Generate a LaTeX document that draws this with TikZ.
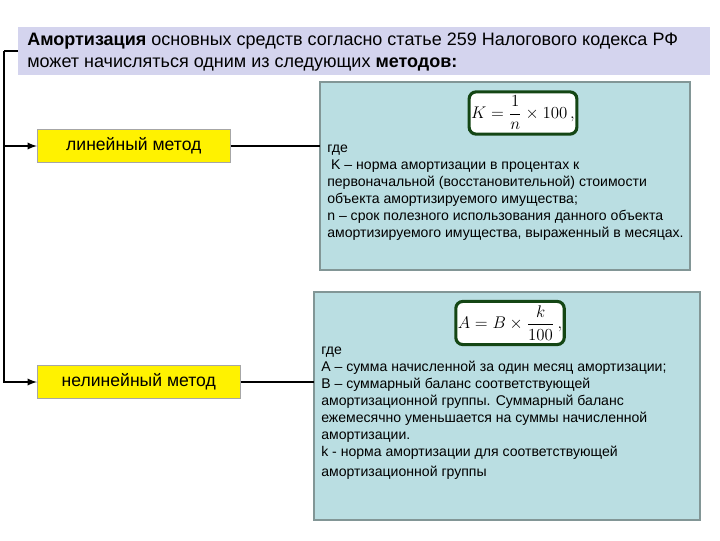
\documentclass[tikz,border=0pt]{standalone}
\usepackage{fontspec}
\setmainfont{Liberation Sans}
\usepackage{amsmath}
\usepackage{xcolor}
\usetikzlibrary{arrows, math}
\definecolor{hdrfill}{RGB}{212,212,238}
\definecolor{tealfill}{RGB}{186,222,226}
\definecolor{tealedge}{RGB}{130,150,150}
\definecolor{fedge}{RGB}{20,70,20}

\begin{document}
\begin{tikzpicture}[x=0.025cm, y=-0.025cm,
  methodbox/.style={draw=gray!70, fill=yellow, minimum height=33*0.025cm, anchor=west, font=\fontsize{12.5}{14}\selectfont},
  infobox/.style={draw=tealedge, line width=1.5, fill=tealfill},
  formbox/.style={draw=fedge, line width=2.2, fill=white, rounded corners=5, inner xsep=1.5pt, inner ysep=3pt},
  infotext/.style={anchor=north west, align=left, inner sep=0, font=\fontsize{10}{12.1}\selectfont}]
\tikzmath{
\lw=1.3;
}
\useasboundingbox (0,0) rectangle (720,540);
% header
\node[fill=hdrfill, minimum width=692*0.025cm, minimum height=48*0.025cm, anchor=north west] (hdr) at (18,27) {};
\node[anchor=north west, align=left, inner sep=0, font=\fontsize{12.8}{15.6}\selectfont] (hdrtxt) at (27,33)
  {\textbf{Амортизация} основных средств согласно статье 259 Налогового кодекса РФ\\
   может начисляться одним из следующих \textbf{методов:}};
% method boxes
\node[methodbox, minimum width=193*0.025cm] (lin) at (37,146) {линейный метод};
\node[methodbox, minimum width=203*0.025cm] (nonlin) at (37,382) {нелинейный метод};
% info boxes
\draw[infobox] (320,82) rectangle (690,270);
\coordinate (box1) at (320,146);
\draw[infobox] (314,292) rectangle (700,520);
\coordinate (box2) at (314,382);
\node[formbox] (f1) at (523,113) {\fontsize{11.5}{13}\selectfont$K=\dfrac{1}{n}\times100\,,$};
\node[formbox] (f2) at (510,323) {\fontsize{11.5}{13}\selectfont$A=B\times\dfrac{k}{100}\,,$};
\node[infotext] (t1) at (327,145) {где\\
 \ K – норма амортизации в процентах к\\
первоначальной (восстановительной) стоимости\\
объекта амортизируемого имущества;\\
n – срок полезного использования данного объекта\\
амортизируемого имущества, выраженный в месяцах.};
\node[infotext] (t2) at (321,347) {где\\
A – сумма начисленной за один месяц амортизации;\\
B – суммарный баланс соответствующей\\
амортизационной группы. Суммарный баланс\\
ежемесячно уменьшается на суммы начисленной\\
амортизации.\\
k - норма амортизации для соответствующей\\[1.5pt]
амортизационной группы};
% connectors
\coordinate (trunk) at (4,51);
\draw[line width=\lw] (hdr.west |- trunk) -- (trunk);
\draw[-latex, line width=\lw] (trunk |- lin.west) -- (lin.west);
\draw[-latex, line width=\lw] (trunk) |- (nonlin.west);
\draw[line width=\lw] (lin.east) -- (box1 |- lin.east);
\draw[line width=\lw] (nonlin.east) -- (box2 |- nonlin.east);
\end{tikzpicture}
\end{document}
